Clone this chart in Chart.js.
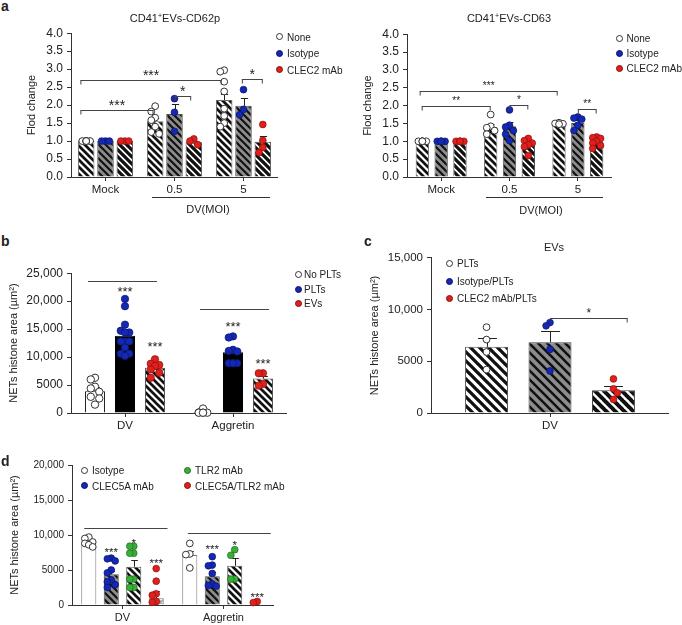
<!DOCTYPE html>
<html>
<head>
<meta charset="utf-8">
<script src="https://cdn.jsdelivr.net/npm/chart.js@4.4.1/dist/chart.umd.min.js"></script>
<style>
  body { margin: 0; background: #fff; }
  #fig { position: relative; width: 682px; height: 625px; overflow: hidden;
         font-family: "Liberation Sans", Arial, Helvetica, sans-serif; color: #222; }
  #fig canvas { position: absolute; }
  .t { position: absolute; white-space: nowrap; font-size: 11px; line-height: 13px; z-index: 2; }
  .t sup { font-size: 7px; vertical-align: 4px; line-height: 0; }
  .lg { font-size: 10px; }
  .letter { font-weight: bold; font-size: 14px; }
  .dot { position: absolute; width: 5px; height: 5px; border-radius: 50%; border: 1px solid #333; z-index: 2; }
  .rule { position: absolute; height: 0; border-top: 1px solid #333; z-index: 2; }
</style>
</head>
<body>
<div id="fig"></div>
<script>
const FONT = '"Liberation Sans", Arial, Helvetica, sans-serif';
Chart.defaults.font.family = FONT;

// ---------- data ----------
// panel a (both charts)
const aCategories = ['Mock', '0.5', '5'];
const aSeries = ['None', 'Isotype', 'CLEC2 mAb'];
const aTickLabels = ['0.0', '0.5', '1.0', '1.5', '2.0', '2.5', '3.0', '3.5', '4.0'];

// CD41+EVs-CD62p
const cd62pNoneMean = [1.0, 1.55, 2.14];
const cd62pIsoMean = [1.0, 1.75, 1.98];
const cd62pClecMean = [1.0, 0.97, 0.98];
const cd62pNoneSem = [0, 0.09, 0.17];
const cd62pIsoSem = [0, 0.27, 0.23];
const cd62pClecSem = [0, 0.04, 0.17];
const cd62pNonePts = [[1, 1, 1, 1, 1, 1], [1.97, 1.82, 1.65, 1.58, 1.4, 1.25, 1.2], [2.97, 2.93, 2.65, 2.38, 1.9, 1.7, 1.5, 1.4]];
const cd62pIsoPts = [[1, 1, 1], [2.18, 1.8, 1.27], [2.43, 1.88, 1.73]];
const cd62pClecPts = [[1, 1, 1], [1.06, 1.0, 0.9], [1.46, 1.02, 0.82, 0.68]];

// CD41+EVs-CD63
const cd63NoneMean = [1.0, 1.40, 1.47];
const cd63IsoMean = [1.0, 1.42, 1.51];
const cd63ClecMean = [1.0, 0.91, 0.98];
const cd63NoneSem = [0, 0.09, 0.03];
const cd63IsoSem = [0, 0.12, 0.08];
const cd63ClecSem = [0, 0.06, 0.05];
const cd63NonePts = [[1, 1, 1, 1, 1], [1.75, 1.42, 1.38, 1.3, 1.2], [1.52, 1.5, 1.49, 1.48]];
const cd63IsoPts = [[1, 1, 1, 1, 1], [1.88, 1.45, 1.4, 1.3, 1.2, 1.02], [1.68, 1.65, 1.62, 1.45, 1.3]];
const cd63ClecPts = [[1, 1, 1, 1, 1], [1.08, 1.02, 0.95, 0.9, 0.85, 0.6], [1.12, 1.1, 1.08, 1.0, 0.95, 0.88, 0.8]];

// panel b
const bCategories = ['DV', 'Aggretin'];
const bSeries = ['No PLTs', 'PLTs', 'EVs'];
const bTickLabels = ['0', '5000', '10,000', '15,000', '20,000', '25,000'];
const bNoPltMean = [3900, 150];
const bPltMean = [13830, 10870];
const bEvMean = [8100, 6150];
const bNoPltSem = [700, 120];
const bPltSem = [700, 700];
const bEvSem = [400, 550];
const bNoPltPts = [[6300, 6000, 4700, 4400, 3800, 2900, 2600, 1500], [800, 100, 50, 50, 50, 50]];
const bPltPts = [[20400, 19100, 15800, 14700, 14400, 14400, 12800, 12800, 12800, 11700, 10600, 10600, 10200],
                 [13700, 13500, 11300, 11100, 11000, 8900, 8900, 8900, 8900]];
const bEvPts = [[9600, 8800, 8600, 8400, 7800, 7200, 6300], [7100, 7100, 5200, 4900]];

// panel c
const cCategories = ['DV'];
const cSeries = ['PLTs', 'Isotype/PLTs', 'CLEC2 mAb/PLTs'];
const cTickLabels = ['0', '5000', '10,000', '15,000'];
const cPltMean = [6400];
const cIsoMean = [6850];
const cClecMean = [2200];
const cPltSem = [880];
const cIsoSem = [1060];
const cClecSem = [430];
const cPltPts = [[8300, 7100, 5900, 4200]];
const cIsoPts = [[8750, 8430, 6150, 4070]];
const cClecPts = [[3300, 2340, 1950, 1310]];

// panel d
const dCategories = ['DV', 'Aggretin'];
const dSeries = ['Isotype', 'CLEC5A mAb', 'TLR2 mAb', 'CLEC5A/TLR2 mAb'];
const dTickLabels = ['0', '5000', '10,000', '15,000', '20,000'];
const dIsoMean = [8810, 7150];
const dClecMean = [4380, 4100];
const dTlrMean = [5470, 5600];
const dBothMean = [950, 0];
const dIsoSem = [300, 620];
const dClecSem = [500, 600];
const dTlrSem = [950, 1050];
const dBothSem = [1050, 0];
const dIsoPts = [[9700, 9500, 9000, 8800, 8600, 8300], [8800, 7300, 7200, 5300]];
const dClecPts = [[6700, 6600, 6300, 5000, 4600, 3600, 3300, 2900, 2500], [6900, 5700, 5600, 4500, 3000, 2800, 2700]];
const dTlrPts = [[8400, 8400, 7400, 7400, 3700, 3700, 2500, 2500], [7900, 7100, 3700, 3700]];
const dBothPts = [[5200, 3400, 1600, 1400, 500, 400], [500, 350]];

// ---------- styles ----------
const OPEN = { fill: '#ffffff', stroke: '#333333' };
const BLUE = { fill: '#1428b4', stroke: '#0b146a' };
const RED = { fill: '#e0201c', stroke: '#8a1010' };
const GREEN = { fill: '#38b038', stroke: '#1f6b1f' };

function stripes(bg, fg, s, lw, cross) {
  const c = document.createElement('canvas');
  c.width = s; c.height = s;
  const g = c.getContext('2d');
  g.fillStyle = bg;
  g.fillRect(0, 0, s, s);
  g.strokeStyle = fg;
  g.lineWidth = lw;
  g.beginPath();
  for (let k = -1; k <= 1; k++) {
    g.moveTo(k * s - 1, -1);
    g.lineTo(k * s + s + 1, s + 1);
    if (cross) {
      g.moveTo(k * s - 1, s + 1);
      g.lineTo(k * s + s + 1, -1);
    }
  }
  g.stroke();
  return g.createPattern(c, 'repeat');
}

const whiteStripe = stripes('#ffffff', '#111111', 7, 2.7);
const grayStripe = stripes('#8c8c8c', '#111111', 7, 2.2);
const heavyStripe = stripes('#ffffff', '#111111', 7, 3.3);
const whiteStripeC = stripes('#ffffff', '#111111', 9, 3.3);
const grayStripeC = stripes('#8c8c8c', '#111111', 9, 2.6);
const heavyStripeC = stripes('#ffffff', '#111111', 9, 4.0);
const crossHatch = stripes('#ffffff', '#9a9a9a', 6, 1.6, true);

// ---------- drawing helpers ----------
const fig = document.getElementById('fig');

function txt(html, x, y, align, cls) {
  const d = document.createElement('div');
  d.className = 't' + (cls ? ' ' + cls : '');
  d.innerHTML = html;
  d.style.left = x + 'px';
  d.style.top = y + 'px';
  d.style.transform = align === 'center' ? 'translate(-50%,-50%)' : 'translate(0,-50%)';
  fig.appendChild(d);
}

function legendItem(text, mx, my, tx, style) {
  const d = document.createElement('div');
  d.className = 'dot';
  d.style.left = (mx - 3.5) + 'px';
  d.style.top = (my - 3.5) + 'px';
  d.style.background = style.fill;
  d.style.borderColor = style.stroke;
  fig.appendChild(d);
  txt(text, tx, my, 'left', 'lg');
}

function rule(x1, x2, y) {
  const d = document.createElement('div');
  d.className = 'rule';
  d.style.left = x1 + 'px';
  d.style.width = (x2 - x1) + 'px';
  d.style.top = y + 'px';
  fig.appendChild(d);
}

// spread the dots of one bar so they do not sit on top of each other
function swarm(values, cx, r, maxOff, yScale) {
  const placed = [];
  const order = values.map((v, i) => i).sort((a, b) => values[b] - values[a]);
  const step = r * 1.15;
  const cands = [0];
  for (let k = 1; k * step <= maxOff + 0.01; k++) cands.push(-k * step, k * step);
  order.forEach(i => {
    const py = yScale.getPixelForValue(values[i]);
    let best = 0, bestD = -1;
    for (const off of cands) {
      let md = Infinity;
      for (const p of placed) {
        const d = Math.hypot(p.x - (cx + off), p.y - py);
        if (d < md) md = d;
      }
      if (md >= r * 1.8) { best = off; break; }
      if (md > bestD) { bestD = md; best = off; }
    }
    placed.push({ x: cx + best, y: py });
  });
  return placed;
}

function drawStars(ctx, text, x, cy, size) {
  ctx.font = size + 'px ' + FONT;
  ctx.fillStyle = '#222';
  ctx.textAlign = 'center';
  ctx.textBaseline = 'alphabetic';
  ctx.fillText(text, x, cy + size * 0.57);
}

function marksPlugin(p) {
  return {
    id: 'marks',
    afterDatasetsDraw(chart) {
      const ctx = chart.ctx;
      const y = chart.scales.y;
      ctx.save();
      // error bars (mean + SEM)
      ctx.strokeStyle = '#222';
      ctx.lineWidth = 1;
      p.series.forEach((s, si) => {
        chart.getDatasetMeta(si).data.forEach((bar, ci) => {
          if (!s.sem[ci]) return;
          const base = y.getPixelForValue(s.mean[ci]);
          const top = y.getPixelForValue(s.mean[ci] + s.sem[ci]);
          const cap = bar.width * 0.22;
          const x = Math.round(bar.x) + 0.5;
          const ty = Math.round(top) + 0.5;
          ctx.beginPath();
          ctx.moveTo(x, base);
          ctx.lineTo(x, ty);
          ctx.moveTo(x - cap, ty);
          ctx.lineTo(x + cap, ty);
          ctx.stroke();
        });
      });
      // individual dots
      p.series.forEach((s, si) => {
        chart.getDatasetMeta(si).data.forEach((bar, ci) => {
          const maxOff = Math.min(bar.width / 2 - p.r * 0.6, p.r * 2.2);
          const pos = swarm(s.pts[ci], bar.x, p.r, maxOff, y);
          ctx.fillStyle = s.dot.fill;
          ctx.strokeStyle = s.dot.stroke;
          ctx.lineWidth = s.dot === OPEN ? 1 : 0.7;
          pos.forEach(q => {
            ctx.beginPath();
            ctx.arc(q.x, q.y, p.r, 0, Math.PI * 2);
            ctx.fill();
            ctx.stroke();
          });
        });
      });
      // brackets and lines
      ctx.strokeStyle = '#444';
      ctx.lineWidth = 1;
      (p.brackets || []).forEach(b => {
        const ba = chart.getDatasetMeta(b.a[1]).data[b.a[0]];
        const bb = chart.getDatasetMeta(b.b[1]).data[b.b[0]];
        const x1 = ba.x - b.ext[0] * ba.width;
        const x2 = bb.x + b.ext[1] * bb.width;
        const ly = Math.round(y.getPixelForValue(b.v)) + 0.5;
        ctx.beginPath();
        ctx.moveTo(x1, ly);
        ctx.lineTo(x2, ly);
        if (b.ends[0]) { ctx.moveTo(x1 + 0.5, ly); ctx.lineTo(x1 + 0.5, ly + 4); }
        if (b.ends[1]) { ctx.moveTo(x2 - 0.5, ly); ctx.lineTo(x2 - 0.5, ly + 4); }
        ctx.stroke();
        if (b.text) drawStars(ctx, b.text, (x1 + x2) / 2, ly - 8, p.starSize);
      });
      (p.stars || []).forEach(s => {
        const bar = chart.getDatasetMeta(s.at[1]).data[s.at[0]];
        drawStars(ctx, s.text, bar.x, y.getPixelForValue(s.v), p.starSize);
      });
      ctx.restore();
    }
  };
}

function buildPanel(p) {
  const bx = p.area.left - p.yW;
  const by = p.area.top - p.padTop;
  const cv = document.createElement('canvas');
  cv.width = p.area.right - bx;
  cv.height = p.area.bottom - by + p.xH;
  cv.style.left = bx + 'px';
  cv.style.top = by + 'px';
  fig.appendChild(cv);

  const datasets = p.series.map(s => ({
    label: s.name,
    data: s.mean,
    backgroundColor: s.fill,
    borderColor: s.border,
    borderWidth: 1,
    borderSkipped: 'bottom',
    categoryPercentage: p.catPct,
    barPercentage: p.barPct
  }));

  return new Chart(cv, {
    type: 'bar',
    data: { labels: p.categories, datasets },
    options: {
      responsive: false,
      animation: false,
      layout: { padding: { top: p.padTop, left: 0, right: 0, bottom: 0 } },
      plugins: { legend: { display: false }, tooltip: { enabled: false } },
      scales: {
        x: {
          offset: true,
          grid: { display: true, drawOnChartArea: false, offset: false, tickLength: 4, color: '#333' },
          border: { color: '#333' },
          ticks: { color: '#222', font: { size: p.xFont }, padding: 2, maxRotation: 0 },
          afterFit: s => { s.height = p.xH; }
        },
        y: {
          min: 0,
          max: p.yMax,
          ticks: {
            stepSize: p.yStep,
            autoSkip: false,
            color: '#222',
            font: { size: p.yFont },
            padding: 4,
            callback: v => p.tickLabels[Math.round(v / p.yStep)]
          },
          grid: { display: true, drawOnChartArea: false, tickLength: 4, color: '#333' },
          border: { color: '#333' },
          title: { display: true, text: p.yTitle, color: '#222', font: { size: 11 },
                   padding: { top: p.titlePad, bottom: 0 } },
          afterFit: s => { s.width = p.yW; }
        }
      }
    },
    plugins: [marksPlugin(p)]
  });
}

// ---------- panels ----------
buildPanel({
  categories: aCategories,
  series: [
    { name: aSeries[0], mean: cd62pNoneMean, sem: cd62pNoneSem, pts: cd62pNonePts, fill: whiteStripe, border: '#666', dot: OPEN },
    { name: aSeries[1], mean: cd62pIsoMean, sem: cd62pIsoSem, pts: cd62pIsoPts, fill: grayStripe, border: '#555', dot: BLUE },
    { name: aSeries[2], mean: cd62pClecMean, sem: cd62pClecSem, pts: cd62pClecPts, fill: heavyStripe, border: '#555', dot: RED }
  ],
  area: { left: 71, right: 278, top: 32, bottom: 177 },
  yW: 60, padTop: 10, xH: 24, xFont: 11.5, yFont: 12,
  yMax: 4, yStep: 0.5, tickLabels: aTickLabels,
  yTitle: 'Flod change', titlePad: 14.4,
  catPct: 0.84, barPct: 0.855, r: 3.4, starSize: 14,
  brackets: [
    { a: [0, 0], b: [2, 0], v: 2.7, ext: [0.35, -0.15], ends: [1, 1], text: '***' },
    { a: [0, 0], b: [1, 0], v: 1.87, ext: [0.35, -0.1], ends: [1, 1], text: '***' },
    { a: [1, 1], b: [1, 2], v: 2.26, ext: [0, -0.16], ends: [1, 1], text: '*' },
    { a: [2, 1], b: [2, 2], v: 2.72, ext: [0.1, 0], ends: [1, 1], text: '*' }
  ]
});

buildPanel({
  categories: aCategories,
  series: [
    { name: aSeries[0], mean: cd63NoneMean, sem: cd63NoneSem, pts: cd63NonePts, fill: whiteStripe, border: '#777', dot: OPEN },
    { name: aSeries[1], mean: cd63IsoMean, sem: cd63IsoSem, pts: cd63IsoPts, fill: grayStripe, border: '#555', dot: BLUE },
    { name: aSeries[2], mean: cd63ClecMean, sem: cd63ClecSem, pts: cd63ClecPts, fill: heavyStripe, border: '#555', dot: RED }
  ],
  area: { left: 407, right: 612, top: 33, bottom: 177 },
  yW: 60, padTop: 10, xH: 24, xFont: 11.5, yFont: 12,
  yMax: 4, yStep: 0.5, tickLabels: aTickLabels,
  yTitle: 'Flod change', titlePad: 14.4,
  catPct: 0.826, barPct: 0.71, r: 3.4, starSize: 10,
  brackets: [
    { a: [0, 0], b: [2, 0], v: 2.4, ext: [0.2, -0.1], ends: [1, 1], text: '***' },
    { a: [0, 0], b: [1, 0], v: 1.98, ext: [0.05, 0], ends: [1, 1], text: '**' },
    { a: [1, 1], b: [1, 2], v: 2.03, ext: [0, 0], ends: [1, 1], text: '*' },
    { a: [2, 1], b: [2, 2], v: 1.91, ext: [0, 0], ends: [1, 1], text: '**' }
  ]
});

buildPanel({
  categories: bCategories,
  series: [
    { name: bSeries[0], mean: bNoPltMean, sem: bNoPltSem, pts: bNoPltPts, fill: '#ffffff', border: '#222', dot: OPEN },
    { name: bSeries[1], mean: bPltMean, sem: bPltSem, pts: bPltPts, fill: '#000000', border: '#000', dot: BLUE },
    { name: bSeries[2], mean: bEvMean, sem: bEvSem, pts: bEvPts, fill: whiteStripe, border: '#555', dot: RED }
  ],
  area: { left: 71, right: 287, top: 272, bottom: 413 },
  yW: 70, padTop: 10, xH: 24, xFont: 11.5, yFont: 12,
  yMax: 25000, yStep: 5000, tickLabels: bTickLabels,
  yTitle: 'NETs histone area (µm²)', titlePad: 6.4,
  catPct: 0.833, barPct: 0.667, r: 3.7, starSize: 13,
  brackets: [
    { a: [0, 0], b: [0, 2], v: 23580, ext: [0.35, 0.1], ends: [0, 0] },
    { a: [1, 0], b: [1, 2], v: 18560, ext: [0.15, 0.3], ends: [0, 0] }
  ],
  stars: [
    { at: [0, 1], v: 22290, text: '***' },
    { at: [0, 2], v: 12360, text: '***' },
    { at: [1, 1], v: 15900, text: '***' },
    { at: [1, 2], v: 9400, text: '***' }
  ]
});

buildPanel({
  categories: cCategories,
  series: [
    { name: cSeries[0], mean: cPltMean, sem: cPltSem, pts: cPltPts, fill: whiteStripeC, border: '#555', dot: OPEN },
    { name: cSeries[1], mean: cIsoMean, sem: cIsoSem, pts: cIsoPts, fill: grayStripeC, border: '#444', dot: BLUE },
    { name: cSeries[2], mean: cClecMean, sem: cClecSem, pts: cClecPts, fill: heavyStripeC, border: '#444', dot: RED }
  ],
  area: { left: 431, right: 669, top: 257, bottom: 413 },
  yW: 70, padTop: 10, xH: 24, xFont: 11.5, yFont: 11.5,
  yMax: 15000, yStep: 5000, tickLabels: cTickLabels,
  yTitle: 'NETs histone area (µm²)', titlePad: 7.4,
  catPct: 0.8, barPct: 0.677, r: 3.4, starSize: 12,
  brackets: [
    { a: [0, 1], b: [0, 2], v: 9200, ext: [0, 0.33], ends: [0, 1], text: '*' }
  ]
});

buildPanel({
  categories: dCategories,
  series: [
    { name: dSeries[0], mean: dIsoMean, sem: dIsoSem, pts: dIsoPts, fill: '#ffffff', border: '#777', dot: OPEN },
    { name: dSeries[1], mean: dClecMean, sem: dClecSem, pts: dClecPts, fill: grayStripe, border: '#555', dot: BLUE },
    { name: dSeries[2], mean: dTlrMean, sem: dTlrSem, pts: dTlrPts, fill: whiteStripe, border: '#555', dot: GREEN },
    { name: dSeries[3], mean: dBothMean, sem: dBothSem, pts: dBothPts, fill: crossHatch, border: '#777', dot: RED }
  ],
  area: { left: 72, right: 274, top: 465, bottom: 605 },
  yW: 70, padTop: 10, xH: 20, xFont: 11, yFont: 10,
  yMax: 20000, yStep: 5000, tickLabels: dTickLabels,
  yTitle: 'NETs histone area (µm²)', titlePad: 6.4,
  catPct: 0.89, barPct: 0.67, r: 3.4, starSize: 11.5,
  brackets: [
    { a: [0, 0], b: [0, 3], v: 10950, ext: [0.3, 0.75], ends: [0, 0] },
    { a: [1, 0], b: [1, 3], v: 10240, ext: [0.13, 0.9], ends: [0, 0] }
  ],
  stars: [
    { at: [0, 1], v: 7950, text: '***' },
    { at: [0, 2], v: 9290, text: '*' },
    { at: [0, 3], v: 6330, text: '***' },
    { at: [1, 1], v: 8430, text: '***' },
    { at: [1, 2], v: 8900, text: '*' },
    { at: [1, 3], v: 1570, text: '***' }
  ]
});

// ---------- titles, legends, labels ----------
txt('a', 1, 6, 'left', 'letter');
txt('b', 1, 241, 'left', 'letter');
txt('c', 364, 241, 'left', 'letter');
txt('d', 1, 461, 'left', 'letter');

txt('CD41<sup>+</sup>EVs-CD62p', 175, 18, 'center');
txt('CD41<sup>+</sup>EVs-CD63', 509, 18, 'center');
txt('EVs', 554, 247, 'center');

legendItem(aSeries[0], 279, 36.5, 287, OPEN);
legendItem(aSeries[1], 279, 53, 287, BLUE);
legendItem(aSeries[2], 279, 69.5, 287, RED);

legendItem(aSeries[0], 619.5, 38, 626.5, OPEN);
legendItem(aSeries[1], 619.5, 53, 626.5, BLUE);
legendItem(aSeries[2], 619.5, 68, 626.5, RED);

legendItem(bSeries[0], 298, 274.3, 304, OPEN);
legendItem(bSeries[1], 298, 289.3, 304, BLUE);
legendItem(bSeries[2], 298, 303.3, 304, RED);

legendItem(cSeries[0], 449.3, 263.3, 457, OPEN);
legendItem(cSeries[1], 449.3, 281, 457, BLUE);
legendItem(cSeries[2], 449.3, 298.3, 457, RED);

legendItem(dSeries[0], 84.3, 470, 92, OPEN);
legendItem(dSeries[1], 84.3, 485.7, 92, BLUE);
legendItem(dSeries[2], 187.7, 470, 195, GREEN);
legendItem(dSeries[3], 187.7, 485.7, 195, RED);

rule(152, 270, 197);
txt('DV(MOI)', 208, 209, 'center');
rule(486, 603, 197);
txt('DV(MOI)', 541, 210, 'center');
</script>
</body>
</html>
